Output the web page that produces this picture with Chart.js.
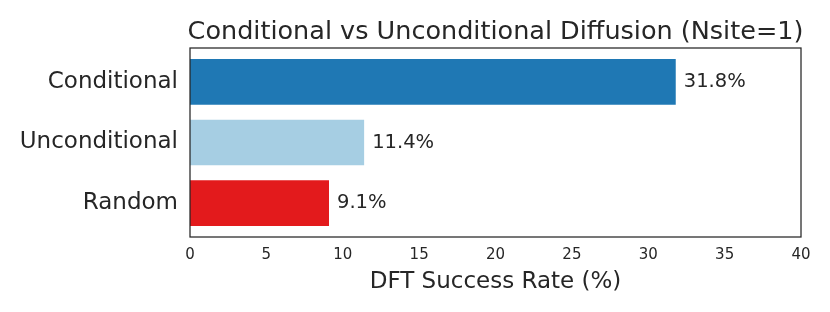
<!DOCTYPE html>
<html>
<head>
<meta charset="utf-8">
<script src="https://cdn.jsdelivr.net/npm/chart.js@4.4.1/dist/chart.umd.min.js"></script>
<style>
  body { margin: 0; background: #fff; }
  #wrap { width: 830px; height: 312px; }
</style>
</head>
<body>
<div id="wrap"><canvas id="chart"></canvas></div>
<script>
// Chart data
const categories = ['Conditional', 'Unconditional', 'Random'];
const successRates = [31.8, 11.4, 9.1];
const barColors = ['#1f78b4', '#a6cee3', '#e31a1c'];
const xTickValues = [0, 5, 10, 15, 20, 25, 30, 35, 40];
const chartTitle = 'Conditional vs Unconditional Diffusion (Nsite=1)';

const TEXT = '#262626';
Chart.defaults.font.family = "'DejaVu Sans', sans-serif";
Chart.defaults.color = TEXT;

// Draw the "31.8%" labels just past the end of each bar
const valueLabels = {
    id: 'valueLabels',
    afterDatasetsDraw(chart) {
        const ctx = chart.ctx;
        const meta = chart.getDatasetMeta(0);
        ctx.save();
        ctx.font = "19.5px 'DejaVu Sans'";
        ctx.fillStyle = TEXT;
        ctx.textAlign = 'left';
        ctx.textBaseline = 'middle';
        meta.data.forEach((bar, i) => {
            ctx.fillText(successRates[i].toFixed(1) + '%', bar.x + 8, bar.y);
        });
        ctx.restore();
    }
};

// Box around the plot area (matplotlib spines) + title centred over it
// (the built-in title squeezes text to the plot width, so draw it here)
const frame = {
    id: 'frame',
    afterDraw(chart) {
        const a = chart.chartArea;
        const ctx = chart.ctx;
        ctx.save();
        ctx.strokeStyle = TEXT;
        ctx.lineWidth = 1.25;
        ctx.strokeRect(a.left, a.top, a.right - a.left, a.bottom - a.top);

        ctx.font = "25.5px 'DejaVu Sans'";
        ctx.fillStyle = TEXT;
        ctx.textAlign = 'center';
        ctx.textBaseline = 'alphabetic';
        ctx.fillText(chartTitle, (a.left + a.right) / 2, 38.5);
        ctx.restore();
    }
};

new Chart(document.getElementById('chart'), {
    type: 'bar',
    data: {
        datasets: [{
            data: successRates.map((v, i) => ({ x: v, y: i })),
            backgroundColor: barColors,
            borderWidth: 0,
            barPercentage: 0.755,
            categoryPercentage: 1
        }]
    },
    options: {
        indexAxis: 'y',
        responsive: true,
        maintainAspectRatio: false,
        animation: false,
        layout: { padding: { left: 0, right: 29, top: 48, bottom: 0 } },
        plugins: {
            legend: { display: false },
            tooltip: { enabled: false },
            title: { display: false }
        },
        scales: {
            x: {
                type: 'linear',
                min: 0,
                max: 40,
                grid: { display: false, drawTicks: false },
                border: { display: false },
                afterBuildTicks: (scale) => { scale.ticks = xTickValues.map(v => ({ value: v })); },
                afterFit: (scale) => { scale.height = 75; },
                ticks: { font: { size: 15 }, color: TEXT, padding: 9 },
                title: {
                    display: true,
                    text: 'DFT Success Rate (%)',
                    color: TEXT,
                    font: { size: 23 },
                    padding: { top: 0, bottom: 16 }
                }
            },
            y: {
                type: 'linear',
                reverse: true,
                offset: false,
                min: -0.56,
                max: 2.56,
                grid: { display: false, drawTicks: false, offset: false },
                border: { display: false },
                afterBuildTicks: (scale) => { scale.ticks = categories.map((c, i) => ({ value: i })); },
                afterFit: (scale) => { scale.width = 190; },
                ticks: {
                    font: { size: 23 },
                    color: TEXT,
                    padding: 12,
                    callback: (v) => categories[v]
                }
            }
        }
    },
    plugins: [valueLabels, frame]
});
</script>
</body>
</html>
